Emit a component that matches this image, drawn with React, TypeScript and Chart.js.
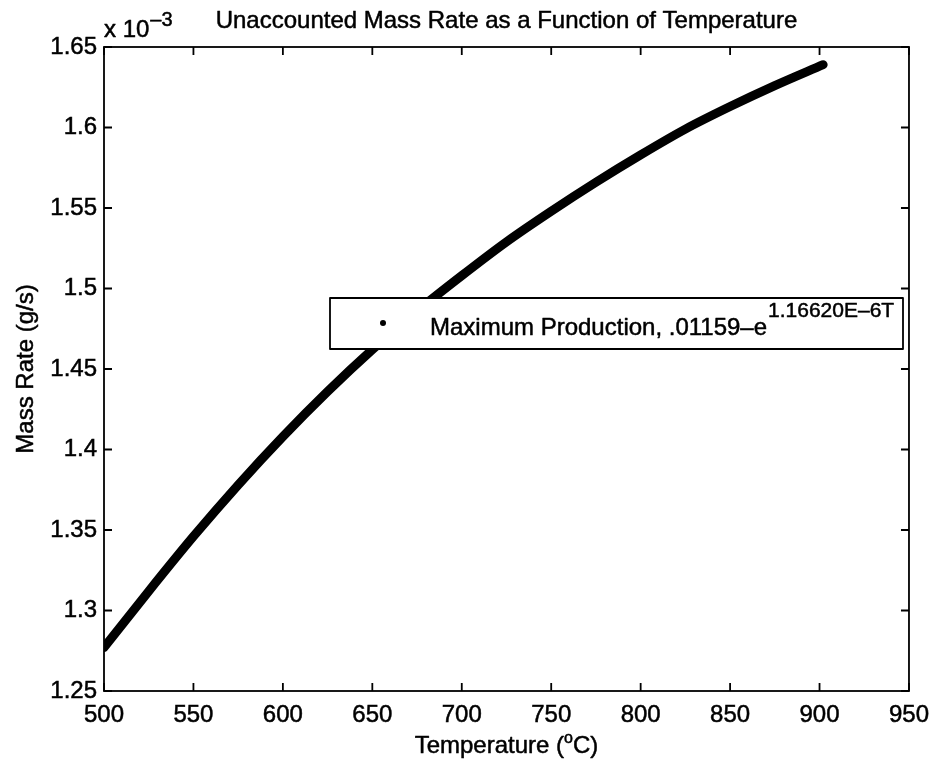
import React, { useEffect, useRef } from "react";
import { Chart, registerables } from "chart.js";

Chart.register(...registerables);

// Temperature (°C)
const temperature = [500, 525, 550, 575, 600, 625, 650, 675, 700, 725, 750, 775, 800, 825, 850, 875, 902];
// Mass rate (g/s), in units of 10^-3
const massRate = [1.277, 1.312, 1.346, 1.378, 1.408, 1.436, 1.462, 1.486, 1.508, 1.529, 1.548, 1.566, 1.583, 1.599, 1.613, 1.626, 1.639];

const xTicks = [500, 550, 600, 650, 700, 750, 800, 850, 900, 950];
const yTicks = [1.25, 1.3, 1.35, 1.4, 1.45, 1.5, 1.55, 1.6, 1.65];

const titleText = "Unaccounted Mass Rate as a Function of Temperature";
const yTitle = "Mass Rate (g/s)";
const legendMain = "Maximum Production, .01159\u2013e";
const legendSup = "1.16620E\u20136T";

const FONT = '"Liberation Sans", Arial, Helvetica, sans-serif';
const STROKE = 0.5;

function text(ctx: any, s: string, x: number, y: number) {
  ctx.fillText(s, x, y);
  ctx.strokeText(s, x, y);
}

const decor = {
  id: "matlabDecor",
  afterDraw(chart: any) {
    const ctx = chart.ctx;
    const a = chart.chartArea;
    const xs = chart.scales.x;
    const ys = chart.scales.y;
    ctx.save();
    ctx.strokeStyle = "#000";
    ctx.fillStyle = "#000";
    ctx.lineWidth = 1.8;
    // frame
    ctx.strokeRect(a.left, a.top, a.right - a.left, a.bottom - a.top);
    // inward ticks on all sides
    const tl = 8;
    ctx.beginPath();
    xTicks.forEach((v) => {
      const px = xs.getPixelForValue(v);
      ctx.moveTo(px, a.bottom);
      ctx.lineTo(px, a.bottom - tl);
      ctx.moveTo(px, a.top);
      ctx.lineTo(px, a.top + tl);
    });
    yTicks.forEach((v) => {
      const py = ys.getPixelForValue(v);
      ctx.moveTo(a.left, py);
      ctx.lineTo(a.left + tl, py);
      ctx.moveTo(a.right, py);
      ctx.lineTo(a.right - tl, py);
    });
    ctx.stroke();

    ctx.lineWidth = STROKE;
    ctx.lineJoin = "round";

    // title
    ctx.font = `24px ${FONT}`;
    ctx.textAlign = "center";
    ctx.textBaseline = "alphabetic";
    text(ctx, titleText, (a.left + a.right) / 2, 28);

    // exponent label
    ctx.textAlign = "left";
    text(ctx, "x 10", a.left, 37);
    const w10 = ctx.measureText("x 10").width;
    ctx.font = `20px ${FONT}`;
    text(ctx, "\u20133", a.left + w10 + 1, 26);

    // y title
    ctx.save();
    ctx.translate(26, (a.top + a.bottom) / 2);
    ctx.rotate(-Math.PI / 2);
    ctx.font = `24px ${FONT}`;
    ctx.textAlign = "center";
    ctx.textBaseline = "middle";
    text(ctx, yTitle, 0, 0);
    ctx.restore();

    // x title with superscript o
    ctx.font = `24px ${FONT}`;
    const p1 = "Temperature (";
    const p3 = "C)";
    const w1 = ctx.measureText(p1).width;
    const w3 = ctx.measureText(p3).width;
    ctx.font = `16px ${FONT}`;
    const w2 = ctx.measureText("o").width;
    const total = w1 + w2 + w3;
    const cx = (a.left + a.right) / 2 - total / 2;
    ctx.textAlign = "left";
    ctx.font = `24px ${FONT}`;
    text(ctx, p1, cx, 753);
    ctx.font = `16px ${FONT}`;
    text(ctx, "o", cx + w1, 743);
    ctx.font = `24px ${FONT}`;
    text(ctx, p3, cx + w1 + w2, 753);

    // legend
    const lx = 330, ly = 298, lw = 573, lh = 51;
    ctx.fillStyle = "#fff";
    ctx.fillRect(lx, ly, lw, lh);
    ctx.strokeStyle = "#000";
    ctx.lineWidth = 1.8;
    ctx.strokeRect(lx, ly, lw, lh);
    ctx.fillStyle = "#000";
    ctx.beginPath();
    ctx.arc(383, 323, 3, 0, Math.PI * 2);
    ctx.fill();
    ctx.lineWidth = STROKE;
    ctx.font = `24px ${FONT}`;
    text(ctx, legendMain, 430, 335);
    const wm = ctx.measureText(legendMain).width;
    ctx.font = `21px ${FONT}`;
    text(ctx, legendSup, 430 + wm + 1, 317);
    ctx.restore();
  },
};

export default function App() {
  const ref = useRef<HTMLCanvasElement | null>(null);
  useEffect(() => {
    if (!ref.current) return;
    const chart = new Chart(ref.current, {
      type: "line",
      data: {
        datasets: [
          {
            label: "Maximum Production",
            data: temperature.map((t, i) => ({ x: t, y: massRate[i] })),
            borderColor: "#000",
            backgroundColor: "#000",
            borderWidth: 9,
            borderCapStyle: "round",
            borderJoinStyle: "round",
            pointRadius: 0,
            tension: 0.4,
            cubicInterpolationMode: "monotone",
          },
        ],
      },
      options: {
        animation: false,
        responsive: true,
        maintainAspectRatio: false,
        layout: { padding: { top: 47, right: 26, left: 0, bottom: 0 } },
        plugins: { legend: { display: false }, title: { display: false }, tooltip: { enabled: false } },
        scales: {
          x: {
            type: "linear",
            min: 500,
            max: 950,
            grid: { display: false, drawTicks: false },
            border: { display: false },
            ticks: {
              stepSize: 50,
              color: "#000",
              font: { family: FONT, size: 24 },
              padding: 10,
              maxRotation: 0,
              textStrokeColor: "#000",
              textStrokeWidth: STROKE,
            },
            afterFit: (s: any) => {
              s.height = 76;
            },
          },
          y: {
            type: "linear",
            min: 1.25,
            max: 1.65,
            grid: { display: false, drawTicks: false },
            border: { display: false },
            ticks: {
              stepSize: 0.05,
              color: "#000",
              font: { family: FONT, size: 24 },
              padding: 7,
              textStrokeColor: "#000",
              textStrokeWidth: STROKE,
              callback: (v: any) => String(Number(Number(v).toFixed(2))),
            },
            afterFit: (s: any) => {
              s.width = 104;
            },
          },
        },
      },
      plugins: [decor],
    });
    return () => chart.destroy();
  }, []);
  return (
    <div style={{ position: "fixed", left: 0, top: 0, width: 939, height: 767, background: "#fff" }}>
      <canvas ref={ref} />
    </div>
  );
}
